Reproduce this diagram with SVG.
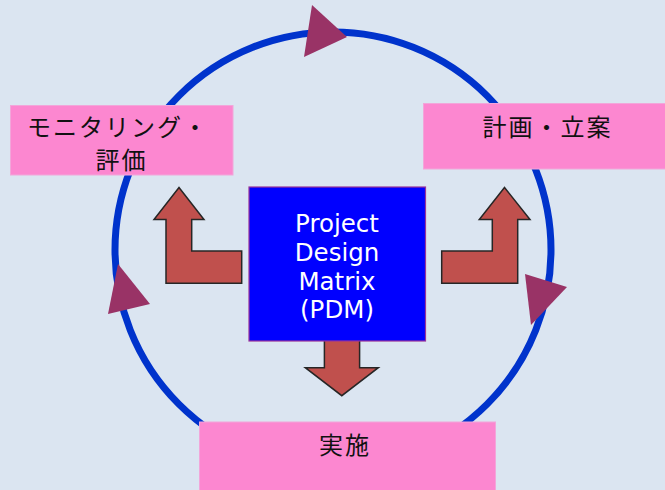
<svg xmlns="http://www.w3.org/2000/svg" width="665" height="490" viewBox="0 0 665 490">
<style>
.box{fill:#FC87D0;stroke:#F2A6DA;stroke-width:1}
.jp{font-family:"Noto Sans CJK JP","Noto Sans CJK SC",sans-serif;font-size:24px;fill:#111;letter-spacing:2px}
.en{font-family:"DejaVu Sans",sans-serif;font-size:24.5px;fill:#ffffff;text-anchor:middle}
.arr{fill:#C0504D;stroke:#262626;stroke-width:1.5;stroke-linejoin:miter}
.tri{fill:#993366}
.ring{fill:none;stroke:#0033CC;stroke-width:7}
</style>
<rect width="665" height="490" fill="#DBE5F1"/>
<g id="connectors">
<circle class="ring" cx="333" cy="250" r="218"/>
<polygon class="tri" points="312,5 347,37 304,57"/>
<polygon class="tri" points="525,274 567,287 531,325"/>
<polygon class="tri" points="118,264 150,304 108,314"/>
<polygon class="arr" points="179,187.5 204,219.5 191.7,219.5 191.7,251 241.7,251 241.7,283.3 166,283.3 166,219.5 154,219.5"/>
<polygon class="arr" points="504.5,187.5 530,219.5 517.7,219.5 517.7,283.3 441.7,283.3 441.7,251 492.3,251 492.3,219.5 479.3,219.5"/>
<polygon class="arr" points="324.4,340 359.6,340 359.6,367.7 378.3,367.7 341.8,395.7 305.3,367.7 324.4,367.7"/>
</g>
<g id="node-monitoring">
<rect class="box" x="10.5" y="105.5" width="222.5" height="69.5"/>
<text class="jp" x="27" y="136">モニタリング・</text>
<text class="jp" x="95.5" y="169">評価</text>
</g>
<g id="node-plan">
<rect class="box" x="423.5" y="103.5" width="245" height="65.5"/>
<text class="jp" x="482.5" y="136">計画・立案</text>
</g>
<g id="node-implement">
<rect class="box" x="199.5" y="422" width="296" height="72"/>
<text class="jp" x="319" y="454">実施</text>
</g>
<g id="node-pdm">
<rect x="249" y="187" width="176.5" height="154" fill="#0000FF" stroke="#993399" stroke-width="1.2"/>
<text class="en" x="337" y="232.3">Project</text>
<text class="en" x="337" y="261">Design</text>
<text class="en" x="337" y="290">Matrix</text>
<text class="en" x="337" y="318">(PDM)</text>
</g>
</svg>
